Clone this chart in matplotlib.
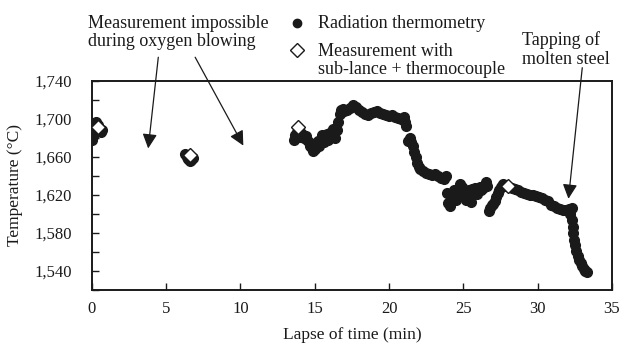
import matplotlib
matplotlib.use("Agg")
import matplotlib.pyplot as plt
from matplotlib.lines import Line2D
from matplotlib.ticker import MultipleLocator, FuncFormatter

plt.rcParams['font.family'] = ['Liberation Serif', 'DejaVu Serif']

# Radiation thermometry (time in min, temperature in degC)
rad_t1 = [0.05, 0.1, 0.15, 0.2, 0.3, 0.4, 0.5, 0.6, 0.7]
rad_T1 = [1678, 1682, 1687, 1692, 1697, 1694, 1689, 1686, 1688]

rad_t2 = [6.3, 6.4, 6.5, 6.6, 6.7, 6.8]
rad_T2 = [1663, 1660, 1658, 1656, 1657, 1659]

rad_t3 = [13.6, 13.7, 13.8, 13.9, 14.0, 14.1, 14.2, 14.3, 14.4, 14.5, 14.6, 14.7,
          14.8, 14.9, 15.0, 15.1, 15.2, 15.3, 15.4, 15.5, 15.6, 15.7, 15.8, 15.9,
          16.0, 16.1, 16.2, 16.3, 16.4, 16.5, 16.6, 16.7, 16.8, 16.9, 17.0, 17.2,
          17.4, 17.6, 17.8, 18.0, 18.2, 18.4, 18.6, 18.8, 19.0, 19.2, 19.4, 19.6,
          19.8, 20.0, 20.2, 20.4, 20.6, 20.8, 21.0, 21.1, 21.15, 21.3, 21.4, 21.5,
          21.6, 21.7, 21.8, 21.9, 22.0, 22.1, 22.3, 22.5, 22.7, 22.9, 23.1, 23.3,
          23.5, 23.7, 23.8]
rad_T3 = [1678, 1683, 1686, 1684, 1681, 1685, 1683, 1680, 1682, 1678, 1676, 1672,
          1669, 1666, 1668, 1673, 1677, 1672, 1679, 1683, 1676, 1680, 1684, 1678,
          1682, 1686, 1690, 1684, 1680, 1688, 1697, 1705, 1709, 1711, 1708, 1710,
          1712, 1715, 1713, 1710, 1707, 1705, 1704, 1706, 1707, 1708, 1706, 1705,
          1704, 1703, 1704, 1702, 1701, 1700, 1702, 1697, 1693, 1677, 1680, 1676,
          1672, 1665, 1660, 1654, 1650, 1647, 1645, 1643, 1642, 1641, 1642, 1640,
          1638, 1637, 1640]

rad_t4 = [23.9, 24.0, 24.1, 24.2, 24.3, 24.4, 24.5, 24.6, 24.7, 24.8, 24.9, 25.0,
          25.1, 25.2, 25.3, 25.4, 25.5, 25.6, 25.7, 25.8, 25.9, 26.0, 26.1, 26.2,
          26.3, 26.4, 26.5, 26.6, 26.7, 26.8, 26.9, 27.0, 27.1, 27.2, 27.3, 27.4,
          27.5, 27.6, 27.7, 27.9, 28.1, 28.3, 28.5, 28.7, 28.9, 29.1, 29.3, 29.5,
          29.7, 29.9, 30.1, 30.3, 30.5, 30.7, 30.9, 31.1, 31.3, 31.5, 31.7, 31.9,
          32.1, 32.3, 32.2, 32.3, 32.35, 32.4, 32.45, 32.5, 32.6, 32.7, 32.8, 32.9,
          33.0, 33.1, 33.2, 33.3]
rad_T4 = [1622, 1612, 1608, 1617, 1620, 1625, 1615, 1622, 1627, 1632, 1628, 1624,
          1619, 1615, 1622, 1625, 1613, 1626, 1623, 1627, 1621, 1624, 1628, 1625,
          1627, 1630, 1634, 1629, 1603, 1606, 1609, 1611, 1614, 1618, 1622, 1625,
          1628, 1630, 1632, 1630, 1628, 1627, 1626, 1625, 1623, 1622, 1621, 1620,
          1620, 1619, 1618, 1617, 1615, 1614, 1610, 1608, 1606, 1605, 1604, 1604,
          1605, 1606, 1600, 1594, 1586, 1580, 1573, 1567, 1561, 1556, 1552, 1548,
          1545, 1542, 1540, 1539]

# Sub-lance + thermocouple measurements
sub_t = [0.4, 6.6, 13.9, 28.0]
sub_T = [1692, 1662, 1692, 1630]

W, H = 623, 345
fig = plt.figure(figsize=(W / 100, H / 100), dpi=100)
ax = fig.add_axes([91.7 / W, 1 - 290 / H, (612 - 91.7) / W, (290 - 81) / H])

for tt, TT in [(rad_t1, rad_T1), (rad_t2, rad_T2), (rad_t3, rad_T3), (rad_t4, rad_T4)]:
    ax.plot(tt, TT, linestyle='none', marker='o', markersize=7.0,
            color='#1a1a1a', markeredgecolor='#1a1a1a', zorder=3)
ax.plot(sub_t, sub_T, linestyle='none', marker='D', markersize=7.5,
        markerfacecolor='white', markeredgecolor='#1a1a1a', markeredgewidth=1.0, zorder=4)

ax.set_xlim(0, 35)
ax.set_ylim(1520, 1740)
ax.xaxis.set_major_locator(MultipleLocator(5))
ax.yaxis.set_minor_locator(MultipleLocator(20))
ax.set_yticks([1540, 1580, 1620, 1660, 1700, 1740])
ax.yaxis.set_major_formatter(FuncFormatter(lambda v, p: f"{int(v):,}"))
ax.tick_params(axis='both', which='both', direction='in', length=5, width=1.0,
               labelsize=12, color='#1a1a1a', labelcolor='#1a1a1a')
ax.tick_params(axis='y', pad=14)
ax.tick_params(axis='x', pad=8)
for s in ax.spines.values():
    s.set_linewidth(1.4)
    s.set_color('#1a1a1a')

ax.set_xlabel('Lapse of time (min)', fontsize=12.5, color='#1a1a1a', labelpad=7)
fig.text(15 / W, 1 - 185 / H, 'Temperature (\u00b0C)', rotation=90, ha='center',
         va='center', fontsize=12.5, color='#1a1a1a')

# Annotation arrows
arrow_kw = dict(arrowstyle='-|>', mutation_scale=22, lw=0.9, color='#1a1a1a',
                shrinkA=0, shrinkB=0)
ax.annotate('', xy=(3.8, 1669), xytext=(4.48, 1765), arrowprops=arrow_kw,
            annotation_clip=False)
ax.annotate('', xy=(10.2, 1672), xytext=(6.96, 1765), arrowprops=arrow_kw,
            annotation_clip=False)
ax.annotate('', xy=(32.07, 1616), xytext=(33.0, 1754), arrowprops=arrow_kw,
            annotation_clip=False)

def ftext(x, y, s, **kw):
    fig.text(x / W, 1 - y / H, s, ha='left', va='center', fontsize=13,
             color='#1a1a1a', **kw)

ftext(88, 23, 'Measurement impossible')
ftext(88, 42, 'during oxygen blowing')
ftext(318, 23, 'Radiation thermometry')
ftext(318, 51, 'Measurement with')
ftext(318, 70, 'sub-lance + thermocouple')
ftext(522, 40, 'Tapping of')
ftext(522, 59, 'molten steel')

fig.add_artist(Line2D([297 / W], [1 - 23 / H], marker='o', markersize=6,
                      color='#1a1a1a', linestyle='none'))
fig.add_artist(Line2D([297 / W], [1 - 50 / H], marker='D', markersize=7,
                      markerfacecolor='white', markeredgecolor='#1a1a1a',
                      markeredgewidth=1.0, linestyle='none'))

fig.savefig('out.png', dpi=100)
